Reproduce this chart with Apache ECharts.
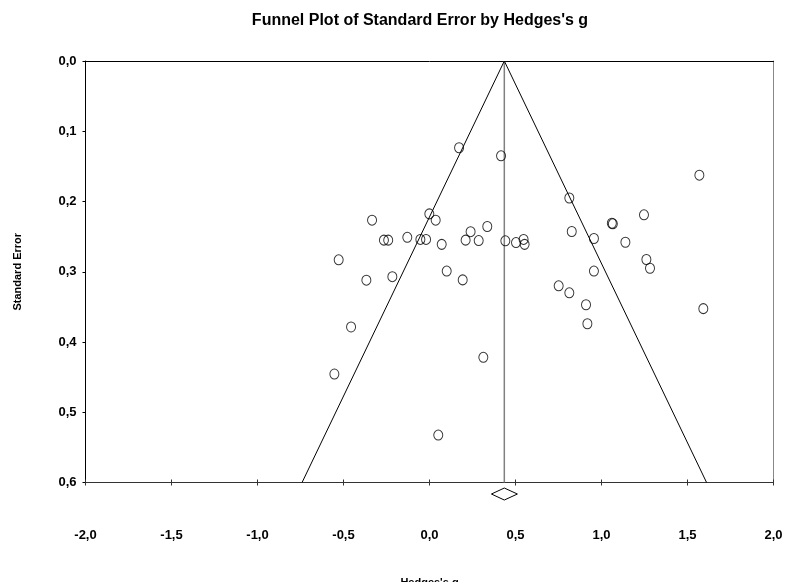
<!DOCTYPE html>
<html>
<head>
<meta charset="utf-8">
<script src="https://cdn.jsdelivr.net/npm/echarts@6/dist/echarts.min.js"></script>
<style>
html,body{margin:0;padding:0;background:#fff;}
#chart{width:786px;height:582px;}
</style>
</head>
<body>
<div id="chart"></div>
<script>
// Study effects (Hedges's g) and their standard errors
var gValues = [0.172, 0.416, 0.813, -0.334, -0.001, 0.036, 0.336, 0.239, 0.827, -0.265, -0.240, -0.129, -0.053, -0.020, 0.071, 0.210, 0.286, 0.441, 0.503, 0.547, 0.553, -0.528, -0.367, -0.216, 0.100, 0.193, 0.751, 0.813, 1.569, 1.247, 1.060, 1.066, 0.956, 1.139, 1.261, 1.282, 0.956, 0.910, 0.918, 1.592, -0.456, -0.553, 0.313, 0.051];
var seValues = [0.1235, 0.135, 0.195, 0.2266, 0.2176, 0.2266, 0.2356, 0.243, 0.2427, 0.255, 0.255, 0.251, 0.254, 0.254, 0.261, 0.255, 0.2556, 0.256, 0.2585, 0.254, 0.261, 0.283, 0.312, 0.307, 0.299, 0.3116, 0.320, 0.330, 0.1625, 0.219, 0.2310, 0.2318, 0.2527, 0.258, 0.2826, 0.295, 0.299, 0.347, 0.374, 0.3525, 0.3786, 0.4456, 0.4218, 0.5325];
var combinedG = 0.435;
var ciLow = 0.360;
var ciHigh = 0.511;
var zCrit = 1.96;
var seMax = 0.6;
var xTicks = [-2.0, 2.0, 0.5];   // min, max, interval
var yTicks = [0.0, 0.6, 0.1];

var points = gValues.map(function (g, i) { return [g, seValues[i]]; });
var funnel = [
  [combinedG - zCrit * seMax, seMax],
  [combinedG, 0],
  [combinedG + zCrit * seMax, seMax]
];
var centerLine = [[combinedG, 0], [combinedG, seMax]];
var diamondY = seMax + 0.0164;

var fmt = function (v) { return v.toFixed(1).replace('.', ','); };
var labelFont = "'Liberation Sans Narrow','Arial Narrow','Liberation Sans',Arial,sans-serif";

var chart = echarts.init(document.getElementById('chart'), null, {renderer: 'canvas'});
chart.setOption({
  animation: false,
  backgroundColor: '#fff',
  graphic: [{
    type: 'text', x: 420, y: 21,
    style: {
      text: "Funnel Plot of Standard Error by Hedges's g",
      font: "bold 16px " + labelFont,
      fill: '#000', textAlign: 'center', textVerticalAlign: 'middle'
    }
  }],
  grid: {left: 85.5, right: 12.5, top: 61, bottom: 99.5, containLabel: false, outerBoundsMode: 'none'},
  xAxis: [{
    type: 'value', position: 'bottom',
    min: xTicks[0], max: xTicks[1], interval: xTicks[2],
    splitLine: {show: false},
    axisLine: {show: true, onZero: false, lineStyle: {color: '#333', width: 1}},
    axisTick: {show: true, inside: false, length: 3, lineStyle: {color: '#333'}},
    axisLabel: {margin: 46, formatter: fmt, color: '#000', fontWeight: 'bold', fontSize: 13, fontFamily: labelFont},
    name: "Hedges's g", nameLocation: 'middle', nameGap: 95,
    nameTextStyle: {color: '#000', fontWeight: 'bold', fontSize: 11, fontFamily: 'Liberation Sans, Arial, sans-serif'}
  }, {
    type: 'value', position: 'bottom',
    min: xTicks[0], max: xTicks[1], interval: xTicks[2],
    splitLine: {show: false},
    axisLine: {show: false, onZero: false},
    axisTick: {show: true, inside: true, length: 3, lineStyle: {color: '#333'}},
    axisLabel: {show: false}
  }, {
    type: 'value', position: 'top',
    min: xTicks[0], max: xTicks[1],
    splitLine: {show: false},
    axisLine: {show: true, onZero: false, lineStyle: {color: '#000', width: 1}},
    axisTick: {show: false}, axisLabel: {show: false}
  }],
  yAxis: [{
    type: 'value', position: 'left', inverse: true,
    min: yTicks[0], max: yTicks[1], interval: yTicks[2],
    splitLine: {show: false},
    axisLine: {show: true, onZero: false, lineStyle: {color: '#000', width: 1}},
    axisTick: {show: true, inside: false, length: 3, lineStyle: {color: '#000'}},
    axisLabel: {margin: 9, formatter: fmt, color: '#000', fontWeight: 'bold', fontSize: 13, fontFamily: labelFont},
    name: 'Standard Error', nameLocation: 'middle', nameGap: 62, nameRotate: 90,
    nameTextStyle: {color: '#000', fontWeight: 'bold', fontSize: 11, fontFamily: 'Liberation Sans, Arial, sans-serif'}
  }, {
    type: 'value', position: 'right', inverse: true,
    min: yTicks[0], max: yTicks[1],
    splitLine: {show: false},
    axisLine: {show: true, onZero: false, lineStyle: {color: '#888', width: 1}},
    axisTick: {show: false}, axisLabel: {show: false}
  }],
  series: [{
    type: 'line', data: centerLine, symbol: 'none', silent: true,
    lineStyle: {color: '#808080', width: 1.5}, z: 2
  }, {
    type: 'line', data: funnel, symbol: 'none', silent: true,
    lineStyle: {color: '#000', width: 1}, z: 2
  }, {
    type: 'scatter', data: points, symbol: 'circle', symbolSize: [9, 10],
    itemStyle: {color: 'rgba(0,0,0,0)', borderColor: '#000', borderWidth: 1}, z: 3
  }, {
    type: 'custom', clip: false, silent: true, z: 4,
    data: [[ciLow, ciHigh, combinedG, diamondY]],
    renderItem: function (params, api) {
      var l = api.coord([api.value(0), api.value(3)]);
      var r = api.coord([api.value(1), api.value(3)]);
      var c = api.coord([api.value(2), api.value(3)]);
      var h = 6;
      return {
        type: 'polygon',
        shape: {points: [[l[0], l[1]], [c[0], c[1] - h], [r[0], r[1]], [c[0], c[1] + h]]},
        style: {fill: '#fff', stroke: '#000', lineWidth: 1}
      };
    }
  }]
});
</script>
</body>
</html>
